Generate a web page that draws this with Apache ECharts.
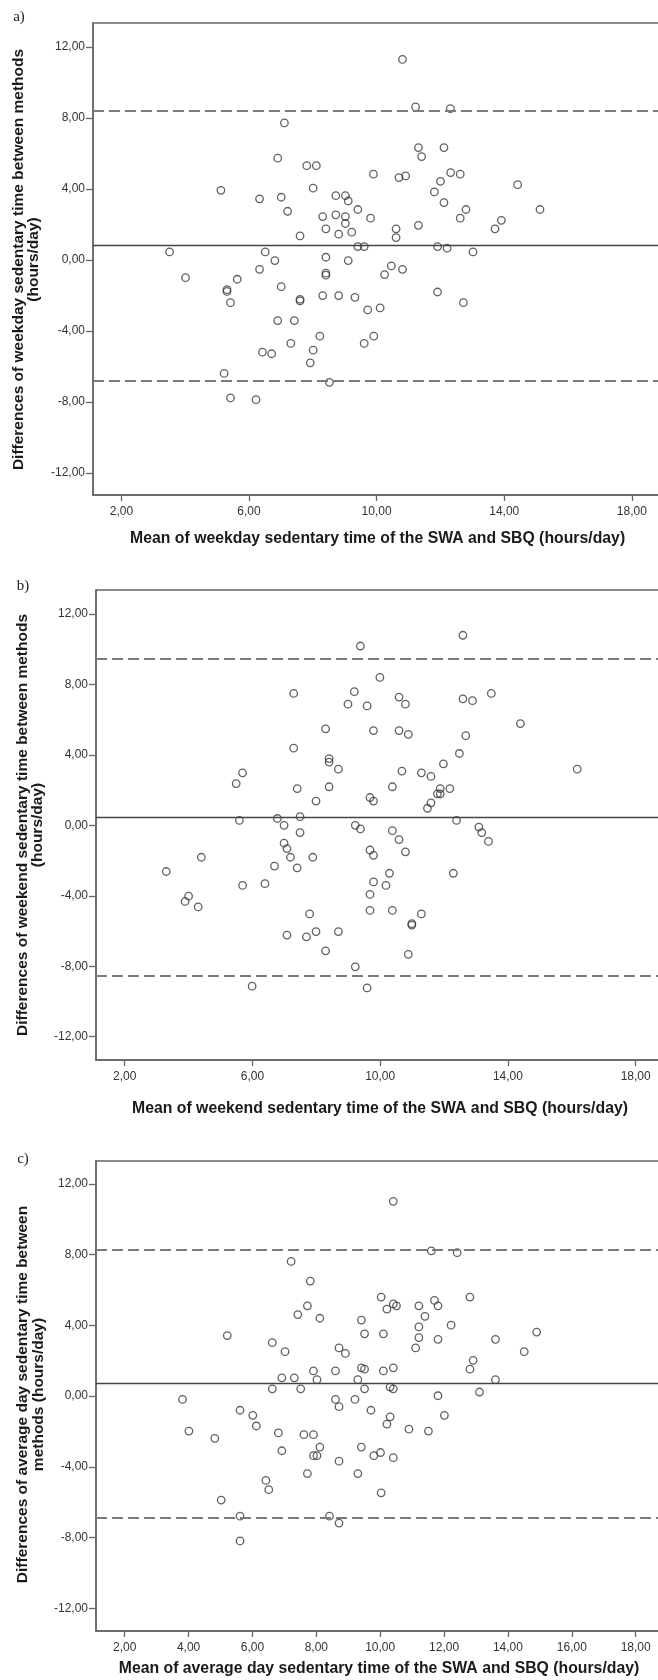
<!DOCTYPE html>
<html>
<head>
<meta charset="utf-8">
<script src="https://cdn.jsdelivr.net/npm/echarts@6/dist/echarts.min.js"></script>
<style>
html,body{margin:0;padding:0;background:#fff;}
#chart{width:658px;height:1680px;}
</style>
</head>
<body>
<div id="chart"></div>
<script>
// ---- Data ----
const yTicks = [-12, -8, -4, 0, 4, 8, 12];
const xTicksAB = [2, 6, 10, 14, 18];
const xTicksC = [2, 4, 6, 8, 10, 12, 14, 16, 18];

// a) weekday
const weekdayMean = [10.81, 11.22, 12.31, 7.11, 11.31, 12.11, 11.41, 6.90, 7.81, 8.11,
  9.90, 10.70, 10.91, 12.32, 12.62, 12.0, 11.81, 14.42, 5.12, 8.01,
  6.33, 7.01, 8.72, 9.02, 9.11, 12.11, 7.21, 9.41, 12.80, 15.12,
  8.31, 8.72, 9.02, 9.81, 12.62, 13.91, 9.02, 8.41, 10.61, 11.31,
  13.71, 9.22, 8.81, 7.60, 10.61, 9.41, 9.61, 11.91, 12.21, 3.51,
  6.51, 13.02, 8.41, 6.81, 9.11, 10.46, 6.33, 10.81, 8.41, 8.41,
  10.25, 4.01, 5.63, 5.31, 5.31, 7.01, 5.42, 7.60, 7.60, 8.31,
  8.81, 9.32, 11.91, 12.72, 9.72, 10.11, 6.90, 7.42, 8.22, 9.91,
  7.31, 9.61, 6.42, 6.71, 8.01, 7.92, 5.22, 8.52, 5.42, 6.22];
const weekdayDiff = [11.3, 8.62, 8.53, 7.72, 6.33, 6.33, 5.82, 5.73, 5.31, 5.31,
  4.83, 4.64, 4.73, 4.92, 4.83, 4.43, 3.83, 4.24, 3.92, 4.04,
  3.44, 3.53, 3.62, 3.62, 3.32, 3.23, 2.74, 2.84, 2.84, 2.84,
  2.44, 2.54, 2.44, 2.35, 2.35, 2.23, 2.05, 1.75, 1.75, 1.95,
  1.75, 1.56, 1.45, 1.35, 1.26, 0.75, 0.75, 0.75, 0.66, 0.45,
  0.45, 0.45, 0.15, -0.04, -0.04, -0.34, -0.53, -0.53, -0.75, -0.86,
  -0.83, -1.0, -1.09, -1.68, -1.78, -1.51, -2.41, -2.22, -2.31, -2.01,
  -2.01, -2.11, -1.81, -2.41, -2.82, -2.71, -3.42, -3.42, -4.30, -4.30,
  -4.71, -4.71, -5.20, -5.29, -5.09, -5.80, -6.40, -6.90, -7.78, -7.88];
const weekdayLines = {mean: 0.8, upper: 8.4, lower: -6.8};

// b) weekend
const weekendMean = [12.59, 9.38, 9.99, 7.29, 9.19, 8.99, 9.59, 10.59, 10.79, 12.59,
  12.89, 13.48, 14.39, 8.29, 9.79, 10.59, 10.88, 12.68, 7.29, 8.40,
  8.40, 8.69, 12.48, 11.98, 16.17, 5.69, 10.68, 11.29, 11.59, 5.49,
  7.40, 8.40, 10.38, 11.88, 12.18, 11.79, 11.88, 7.99, 9.68, 9.79,
  11.59, 11.48, 5.59, 6.78, 7.49, 6.99, 9.22, 9.38, 12.39, 13.09,
  13.18, 13.39, 7.49, 10.38, 10.59, 6.99, 7.08, 9.68, 10.79, 4.40,
  7.19, 7.89, 9.79, 3.30, 6.69, 7.40, 10.29, 12.29, 5.69, 6.39,
  9.79, 10.18, 4.00, 3.89, 4.30, 9.68, 9.68, 10.38, 7.79, 11.29,
  10.99, 10.99, 7.08, 7.69, 7.99, 8.69, 8.29, 10.88, 9.22, 5.99,
  9.59];
const weekendDiff = [10.79, 10.18, 8.40, 7.49, 7.59, 6.88, 6.78, 7.28, 6.88, 7.18,
  7.08, 7.49, 5.78, 5.48, 5.38, 5.38, 5.17, 5.09, 4.38, 3.79,
  3.59, 3.19, 4.08, 3.49, 3.19, 2.98, 3.08, 2.98, 2.78, 2.37,
  2.09, 2.19, 2.19, 2.09, 2.09, 1.79, 1.79, 1.38, 1.58, 1.38,
  1.28, 0.97, 0.28, 0.39, 0.49, 0.0, 0.0, -0.20, 0.28, -0.10,
  -0.41, -0.91, -0.41, -0.30, -0.81, -1.01, -1.32, -1.40, -1.50, -1.81,
  -1.81, -1.81, -1.70, -2.62, -2.31, -2.41, -2.72, -2.72, -3.41, -3.31,
  -3.21, -3.41, -4.02, -4.32, -4.63, -3.92, -4.83, -4.83, -5.03, -5.03,
  -5.58, -5.66, -6.23, -6.33, -6.03, -6.03, -7.12, -7.32, -8.03, -9.13,
  -9.23];
const weekendLines = {mean: 0.46, upper: 9.47, lower: -8.56};

// c) average day
const avgMean = [10.41, 11.60, 12.41, 7.21, 7.81, 10.03, 12.81, 11.70, 10.41, 10.51,
  10.21, 11.21, 11.81, 7.72, 7.42, 8.11, 9.41, 11.40, 12.22, 11.21,
  5.21, 9.51, 10.10, 11.21, 11.81, 13.61, 14.90, 6.62, 7.02, 8.71,
  8.91, 11.11, 14.51, 12.91, 12.81, 9.41, 9.51, 10.41, 7.91, 8.60,
  10.10, 6.92, 7.31, 8.02, 9.30, 13.61, 6.62, 7.51, 9.51, 10.31,
  10.41, 13.11, 3.81, 8.60, 9.21, 11.81, 8.71, 9.71, 5.61, 6.01,
  10.31, 12.01, 6.12, 10.21, 4.01, 6.81, 7.61, 7.91, 10.90, 11.51,
  4.82, 8.11, 9.41, 6.92, 10.01, 7.91, 8.02, 9.80, 10.41, 8.71,
  7.72, 9.30, 6.42, 6.51, 10.03, 5.02, 5.61, 8.41, 8.71, 5.61];
const avgDiff = [11.01, 8.21, 8.11, 7.61, 6.50, 5.60, 5.60, 5.41, 5.21, 5.10,
  4.92, 5.10, 5.10, 5.10, 4.61, 4.40, 4.30, 4.51, 4.01, 3.91,
  3.42, 3.52, 3.52, 3.31, 3.21, 3.21, 3.62, 3.02, 2.51, 2.72,
  2.41, 2.72, 2.51, 2.02, 1.52, 1.60, 1.52, 1.60, 1.42, 1.42,
  1.42, 1.03, 1.03, 0.93, 0.93, 0.93, 0.41, 0.41, 0.41, 0.51,
  0.41, 0.23, -0.19, -0.19, -0.19, 0.02, -0.60, -0.80, -0.80, -1.09,
  -1.17, -1.09, -1.69, -1.58, -1.98, -2.08, -2.18, -2.18, -1.87, -1.98,
  -2.39, -2.88, -2.88, -3.09, -3.19, -3.37, -3.37, -3.37, -3.48, -3.68,
  -4.38, -4.38, -4.77, -5.29, -5.47, -5.88, -6.79, -6.79, -7.18, -8.19];
const avgLines = {mean: 0.70, upper: 8.25, lower: -6.87};

const panelLabels = ['a)', 'b)', 'c)'];
const xTitles = [
  'Mean of weekday sedentary time of the SWA and SBQ (hours/day)',
  'Mean of weekend sedentary time of the SWA and SBQ (hours/day)',
  'Mean of average day sedentary time of the SWA and SBQ (hours/day)'
];
const yTitles = [
  'Differences of weekday sedentary time between methods\n(hours/day)',
  'Differences of weekend sedentary time between methods\n(hours/day)',
  'Differences of average day sedentary time between\nmethods (hours/day)'
];

// ---- Layout ----
const panels = [
  {left: 93, top: 23, width: 573, height: 472, xMin: 1.11, xMax: 19.07, yMin: -13.25, yMax: 13.35,
   xTicks: xTicksAB, mean: weekdayMean, diff: weekdayDiff, lines: weekdayLines,
   lab: [19, 17], yt: [26.3, 259.5], xt: [377.6, 538]},
  {left: 96, top: 590, width: 570, height: 470, xMin: 1.1, xMax: 18.95, yMin: -13.32, yMax: 13.36,
   xTicks: xTicksAB, mean: weekendMean, diff: weekendDiff, lines: weekendLines,
   lab: [23, 586], yt: [30.3, 825], xt: [380, 1108]},
  {left: 96, top: 1161, width: 570, height: 470, xMin: 1.1, xMax: 18.95, yMin: -13.28, yMax: 13.29,
   xTicks: xTicksC, mean: avgMean, diff: avgDiff, lines: avgLines,
   lab: [23, 1159], yt: [30.8, 1394.5], xt: [379, 1668]}
];

const fmt = v => v.toFixed(2).replace('.', ',');
const axisCol = '#666';
const labelFont = 'Liberation Sans Narrow, Liberation Sans, Arial, sans-serif';
const titleFont = '"Liberation Sans", Arial, sans-serif';

const grids = [], xAxes = [], yAxes = [], series = [], graphics = [];
panels.forEach((p, i) => {
  grids.push({left: p.left, top: p.top, width: p.width, height: p.height,
    show: true, borderColor: axisCol, borderWidth: 1.5, backgroundColor: 'transparent',
    containLabel: false, outerBoundsMode: 'none'});
  xAxes.push({type: 'value', gridIndex: i, min: p.xMin, max: p.xMax,
    axisLine: {show: true, onZero: false, lineStyle: {color: axisCol, width: 1.5}},
    axisTick: {show: true, length: 6, customValues: p.xTicks, lineStyle: {color: axisCol, width: 1.3}},
    axisLabel: {show: true, customValues: p.xTicks, formatter: fmt, margin: 11,
      fontFamily: labelFont, fontSize: 12, color: '#333'},
    splitLine: {show: false}});
  yAxes.push({type: 'value', gridIndex: i, min: p.yMin, max: p.yMax,
    axisLine: {show: true, onZero: false, lineStyle: {color: axisCol, width: 1.5}},
    axisTick: {show: true, length: 7, customValues: yTicks, lineStyle: {color: axisCol, width: 1.3}},
    axisLabel: {show: true, customValues: yTicks, formatter: fmt, margin: 8,
      fontFamily: labelFont, fontSize: 12, color: '#333'},
    splitLine: {show: false}});
  series.push({type: 'scatter', xAxisIndex: i, yAxisIndex: i,
    data: p.mean.map((m, k) => [m, p.diff[k]]),
    symbol: 'circle', symbolSize: 7.5,
    itemStyle: {color: 'rgba(255,255,255,0)', borderColor: '#3a3a3a', borderWidth: 1.3},
    z: 3,
    markLine: {silent: true, symbol: 'none', animation: false, label: {show: false},
      data: [
        {yAxis: p.lines.mean, lineStyle: {color: '#444', width: 1.3, type: 'solid'}},
        {yAxis: p.lines.upper, lineStyle: {color: '#7a7a7a', width: 2, type: [11, 5]}},
        {yAxis: p.lines.lower, lineStyle: {color: '#7a7a7a', width: 2, type: [11, 5]}}
      ]}
  });
  graphics.push({type: 'text', x: p.lab[0], y: p.lab[1],
    style: {text: panelLabels[i], font: '15px "Liberation Serif", serif', fill: '#222',
      align: 'center', verticalAlign: 'middle', textAlign: 'center', textVerticalAlign: 'middle'}});
  graphics.push({type: 'text', x: p.yt[0], y: p.yt[1], rotation: Math.PI / 2,
    style: {text: yTitles[i], font: 'bold 15.5px ' + titleFont, fill: '#1a1a1a', lineHeight: 15.5,
      align: 'center', verticalAlign: 'middle', textAlign: 'center', textVerticalAlign: 'middle'}});
  graphics.push({type: 'text', x: p.xt[0], y: p.xt[1], scaleY: 1.1,
    style: {text: xTitles[i], font: 'bold 15.8px ' + titleFont, fill: '#1a1a1a',
      align: 'center', verticalAlign: 'middle', textAlign: 'center', textVerticalAlign: 'middle'}});
});

const chart = echarts.init(document.getElementById('chart'), null, {renderer: 'canvas'});
chart.setOption({
  animation: false,
  backgroundColor: '#fff',
  grid: grids, xAxis: xAxes, yAxis: yAxes, series: series, graphic: graphics
});
</script>
</body>
</html>
